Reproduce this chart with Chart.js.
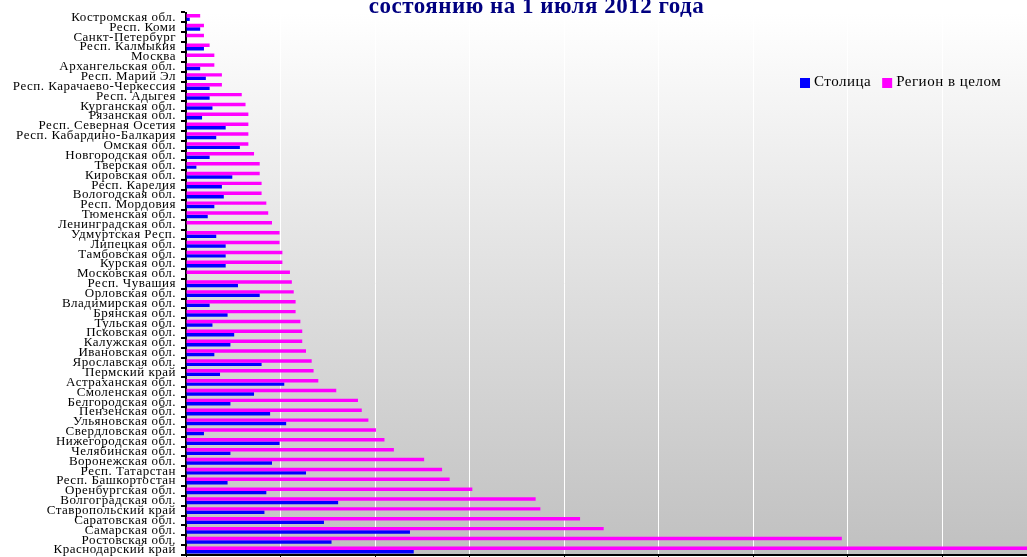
<!DOCTYPE html>
<html lang="ru">
<head>
<meta charset="utf-8">
<title>Столица и регион в целом</title>
<script src="https://cdn.jsdelivr.net/npm/chart.js@4.4.1/dist/chart.umd.min.js"></script>
<style>
  html, body { margin: 0; padding: 0; background: #fff; overflow: hidden; }
  #contenedor { position: relative; width: 1131px; height: 587px; }
</style>
</head>
<body>
<div id="contenedor"><canvas id="graficoRegiones" width="1131" height="587"></canvas></div>
<script>
let grafico = null; // gráfico global

const titulo = 'состоянию на 1 июля 2012 года';

const categorias = [
  'Костромская обл.', 'Респ. Коми', 'Санкт-Петербург', 'Респ. Калмыкия', 'Москва',
  'Архангельская обл.', 'Респ. Марий Эл', 'Респ. Карачаево-Черкессия', 'Респ. Адыгея',
  'Курганская обл.', 'Рязанская обл.', 'Респ. Северная Осетия', 'Респ. Кабардино-Балкария',
  'Омская обл.', 'Новгородская обл.', 'Тверская обл.', 'Кировская обл.', 'Респ. Карелия',
  'Вологодская обл.', 'Респ. Мордовия', 'Тюменская обл.', 'Ленинградская обл.',
  'Удмуртская Респ.', 'Липецкая обл.', 'Тамбовская обл.', 'Курская обл.', 'Московская обл.',
  'Респ. Чувашия', 'Орловская обл.', 'Владимирская обл.', 'Брянская обл.', 'Тульская обл.',
  'Псковская обл.', 'Калужская обл.', 'Ивановская обл.', 'Ярославская обл.', 'Пермский край',
  'Астраханская обл.', 'Смоленская обл.', 'Белгородская обл.', 'Пензенская обл.',
  'Ульяновская обл.', 'Свердловская обл.', 'Нижегородская обл.', 'Челябинская обл.',
  'Воронежская обл.', 'Респ. Татарстан', 'Респ. Башкортостан', 'Оренбургская обл.',
  'Волгоградская обл.', 'Ставропольский край', 'Саратовская обл.', 'Самарская обл.',
  'Ростовская обл.', 'Краснодарский край'
];

const serieRegion = 'Регион в целом';
const serieCapital = 'Столица';

const valoresRegion = [
  1.5, 1.9, 1.9, 2.5, 3.0, 3.0, 3.8, 3.8, 5.9, 6.3, 6.6, 6.6, 6.6, 6.6, 7.2, 7.8, 7.8, 8.0,
  8.0, 8.5, 8.7, 9.1, 9.9, 9.9, 10.2, 10.2, 11.0, 11.2, 11.4, 11.6, 11.6, 12.1, 12.3, 12.3,
  12.7, 13.3, 13.5, 14.0, 15.9, 18.2, 18.6, 19.3, 20.1, 21.0, 22.0, 25.2, 27.1, 27.9, 30.3,
  37.0, 37.5, 41.7, 44.2, 69.4, 96.0
];

// null: для городов федерального значения и их областей столицы нет
const valoresCapital = [
  0.4, 1.5, null, 1.9, null, 1.5, 2.1, 2.5, 2.5, 2.8, 1.7, 4.2, 3.2, 5.7, 2.5, 1.1, 4.9, 3.8,
  4.0, 3.0, 2.3, null, 3.2, 4.2, 4.2, 4.2, null, 5.5, 7.8, 2.5, 4.4, 2.8, 5.1, 4.7, 3.0, 8.0,
  3.6, 10.4, 7.2, 4.7, 8.9, 10.6, 1.9, 9.9, 4.7, 9.1, 12.7, 4.4, 8.5, 16.1, 8.3, 14.6, 23.7,
  15.4, 24.1
];

const pasoEje = 10;
const maximoEje = 100;

// Fondo degradado del área de datos
const fondoDegradado = {
  id: 'fondoDegradado',
  beforeDraw(chart) {
    const { ctx, chartArea: a } = chart;
    const g = ctx.createLinearGradient(0, a.top, 0, a.bottom);
    g.addColorStop(0, '#ffffff');
    g.addColorStop(1, '#c0c0c0');
    ctx.save();
    ctx.fillStyle = g;
    ctx.fillRect(a.left, a.top, a.right - a.left, a.bottom - a.top);
    ctx.restore();
    ctx.letterSpacing = '0.5px'; // etiquetas algo espaciadas
  }
};

// Título y leyenda dibujados a mano
const cabecera = {
  id: 'cabecera',
  afterDraw(chart) {
    const ctx = chart.ctx;
    ctx.save();
    ctx.letterSpacing = '0.5px';
    ctx.font = 'bold 23px "Liberation Serif", serif';
    ctx.fillStyle = '#000080';
    ctx.textAlign = 'center';
    ctx.textBaseline = 'alphabetic';
    ctx.fillText(titulo, 536.5, 12.7);

    ctx.font = '15px "Liberation Serif", serif';
    ctx.textAlign = 'left';
    let x = 800;
    // Столица primero en la leyenda
    [1, 0].forEach(i => {
      const ds = chart.data.datasets[i];
      ctx.fillStyle = ds.backgroundColor;
      ctx.fillRect(x, 78, 10, 10);
      ctx.fillStyle = '#000';
      ctx.fillText(ds.label, x + 14, 86.3);
      x += 14 + ctx.measureText(ds.label).width + 11;
    });
    ctx.restore();
  }
};

function dibujarGrafico() {
  const ctx = document.getElementById('graficoRegiones').getContext('2d');

  if (grafico) {
    grafico.destroy();
  }

  grafico = new Chart(ctx, {
    type: 'bar',
    data: {
      labels: categorias,
      datasets: [
        {
          label: serieRegion,
          data: valoresRegion,
          backgroundColor: '#ff00ff',
          categoryPercentage: 0.7,
          barPercentage: 1
        },
        {
          label: serieCapital,
          data: valoresCapital,
          backgroundColor: '#0000ff',
          categoryPercentage: 0.7,
          barPercentage: 1
        }
      ]
    },
    options: {
      indexAxis: 'y',
      responsive: false,
      animation: false,
      layout: { padding: { top: 12.5, left: 0, right: 0, bottom: 0 } },
      plugins: {
        legend: { display: false },
        title: { display: false },
        tooltip: { enabled: false }
      },
      scales: {
        x: {
          min: 0,
          max: maximoEje,
          ticks: { display: false, stepSize: pasoEje },
          grid: {
            color: c => (c.tick && c.tick.value === 0) ? 'rgba(0,0,0,0)' : '#ffffff',
            lineWidth: 1,
            tickColor: '#000',
            tickLength: 5
          },
          border: { color: '#000', width: 2 },
          afterFit: s => { s.height = 32; s.paddingLeft = 0; s.paddingRight = 0; }
        },
        y: {
          ticks: {
            autoSkip: false,
            color: '#000',
            padding: 5,
            font: { family: '"Liberation Serif", serif', size: 13 }
          },
          grid: { drawOnChartArea: false, color: '#000', lineWidth: 2, tickLength: 5 },
          border: { color: '#000', width: 2 },
          afterFit: s => { s.width = 186; s.paddingTop = 0; s.paddingBottom = 0; }
        }
      }
    },
    plugins: [fondoDegradado, cabecera]
  });
}

window.onload = function () {
  dibujarGrafico();
};
</script>
</body>
</html>
